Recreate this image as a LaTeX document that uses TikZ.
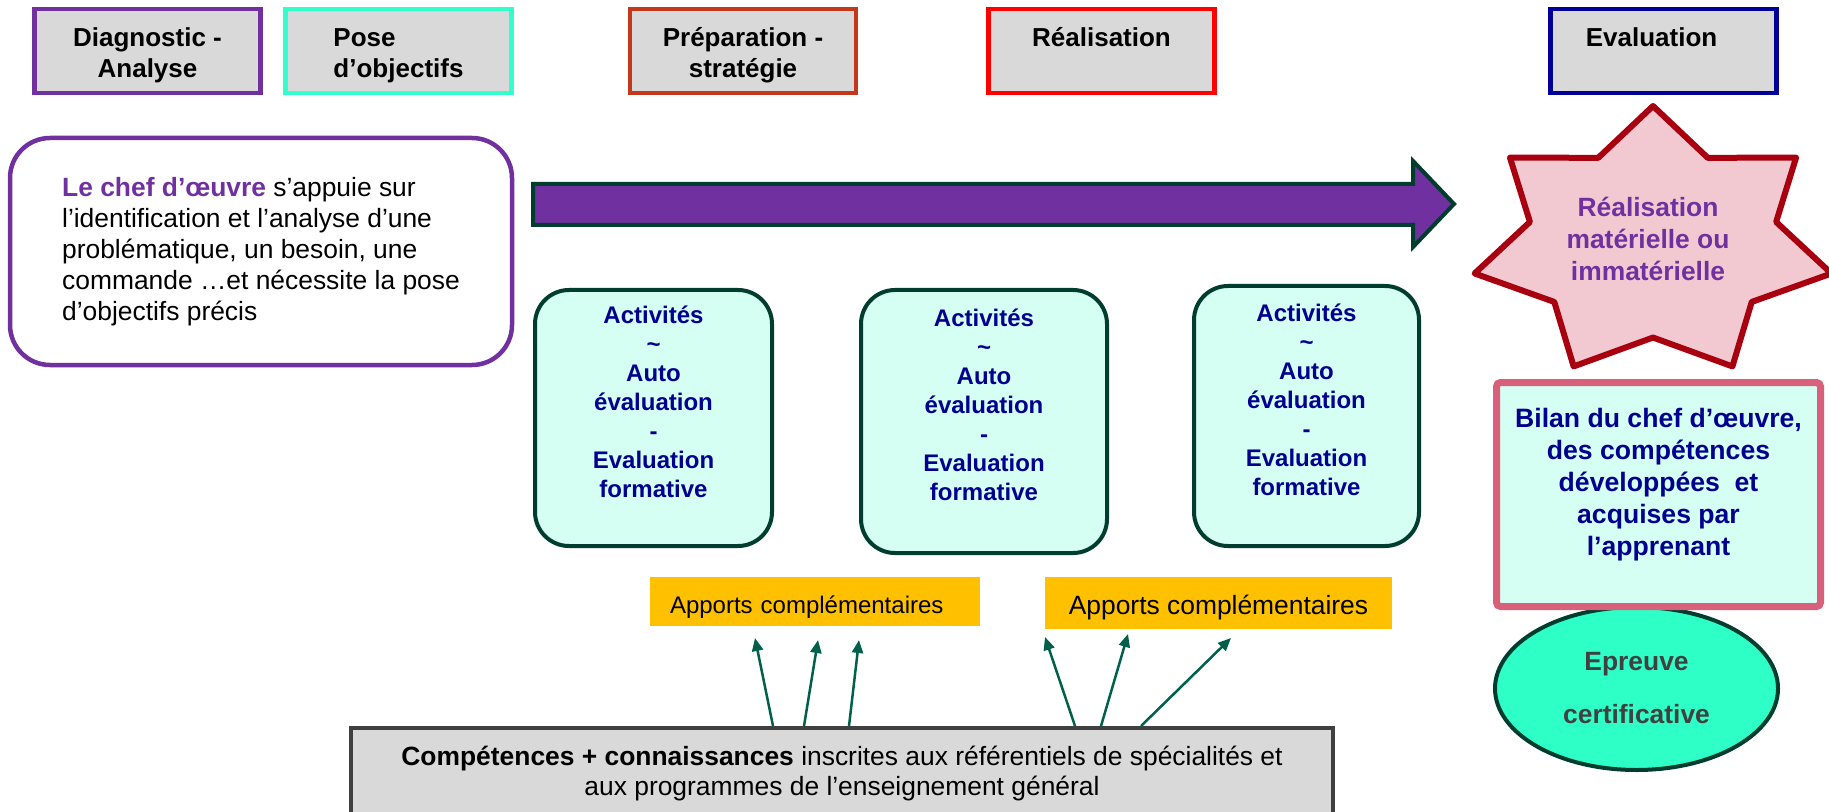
\documentclass[tikz,border=0pt]{standalone}
\usepackage{fontspec}
\setmainfont{Liberation Sans}
\usetikzlibrary{arrows.meta,shapes.geometric}
\definecolor{chefpurple}{HTML}{7030A0}
\definecolor{poseaqua}{HTML}{33FFCC}
\definecolor{preporange}{HTML}{C3371B}
\definecolor{evalblue}{HTML}{000099}
\definecolor{boxgray}{HTML}{D9D9D9}
\definecolor{darkgreen}{HTML}{003D2F}
\definecolor{paleaqua}{HTML}{D5FFF3}
\definecolor{textblue}{HTML}{000090}
\definecolor{starpink}{HTML}{F2C9D1}
\definecolor{starred}{HTML}{A8000F}
\definecolor{bilanpink}{HTML}{D9607A}
\definecolor{certgreen}{HTML}{2EFFC6}
\definecolor{apportsgold}{HTML}{FFC000}
\definecolor{compgray}{HTML}{404040}
\definecolor{arrowgreen}{HTML}{00604A}

\begin{document}
\begin{tikzpicture}[x=0.5pt,y=-0.5pt,
		topbox/.style={draw=#1,fill=boxgray,line width=2.25pt,minimum width=113pt,minimum height=42pt,inner sep=0pt,align=center,font=\fontsize{13}{15.5}\selectfont\bfseries},
		twoline/.style={text height=30pt,text depth=3pt},
		oneline/.style={text height=10pt,text depth=14pt},
		actbox/.style={draw=darkgreen,fill=paleaqua,line width=2pt,rounded corners=17pt,inner sep=0pt,align=center,text=textblue,font=\fontsize{12}{14.5}\selectfont\bfseries,text height=85pt,text depth=6pt},
		apports/.style={fill=apportsgold,inner sep=0pt,text depth=0.5pt},
		feed/.style={arrowgreen,line width=1.25pt,-{Triangle[length=6.5pt,width=5.5pt]}}]
				\clip (0,0) rectangle (1829,812);
				\node[topbox=chefpurple,twoline] (diag) at (147.5,51) {Diagnostic -\\Analyse};
				\node[topbox=poseaqua,twoline,align=left] (pose) at (398.5,51) {Pose\\d’objectifs};
				\node[topbox=preporange,twoline] (prep) at (743,51) {Préparation -\\stratégie};
				\node[topbox=red,oneline] (real) at (1101.5,51) {Réalisation};
				\node[topbox=evalblue,oneline] (eval) at (1663.5,51) {Evaluation\hspace*{12pt}};
				\node[draw=chefpurple,line width=2.25pt,rounded corners=20pt,minimum width=251pt,minimum height=113.5pt,align=left,font=\fontsize{13.2}{15.5}\selectfont] (chef) at (261,251.5) {\textcolor{chefpurple}{\textbf{Le chef d’œuvre}} s’appuie sur\\l’identification et l’analyse d’une\\problématique, un besoin, une\\commande …et nécessite la pose\\d’objectifs précis};
				\filldraw[fill=chefpurple,draw=darkgreen,line width=2pt] (533,184) -- (1413,184) -- (1413,161) -- (1454,204) -- (1413,247) -- (1413,225) -- (533,225) -- cycle;
				\node[actbox,minimum width=118.5pt,minimum height=128pt] (act1) at (653.5,418) {Activités\\\textasciitilde\\Auto\\évaluation\\-\\Evaluation\\formative};
				\node[actbox,minimum width=123pt,minimum height=131.5pt] (act2) at (984,421.5) {Activités\\\textasciitilde\\Auto\\évaluation\\-\\Evaluation\\formative};
				\node[actbox,minimum width=112.5pt,minimum height=130pt] (act3) at (1306.5,416) {Activités\\\textasciitilde\\Auto\\évaluation\\-\\Evaluation\\formative};
				\filldraw[fill=starpink,draw=starred,line width=3pt,line join=round] (1653,106) \foreach \i in {1,...,13} {-- ({1653+183*(1-0.31*mod(\i,2))*cos(90+\i*360/14)},{243-137*(1-0.31*mod(\i,2))*sin(90+\i*360/14)})} -- cycle;
				\node[align=center,text=chefpurple,font=\fontsize{13.2}{16}\selectfont\bfseries,text height=10pt,text depth=10pt] (mat) at (1648,281) {Réalisation\\matérielle ou\\immatérielle};
				\node[ellipse,draw=darkgreen,fill=certgreen,line width=2pt,minimum width=141.5pt,minimum height=81.5pt,inner sep=0pt,align=center,text=compgray,font=\fontsize{13.2}{26.5}\selectfont\bfseries] (cert) at (1636.5,688.5) {Epreuve\\certificative};
				\node[draw=bilanpink,fill=paleaqua,line width=3.5pt,rounded corners=2pt,minimum width=162pt,minimum height=112pt,inner sep=0pt,align=center,text=textblue,font=\fontsize{13.3}{16}\selectfont\bfseries,text height=66pt,text depth=5.5pt] (bilan) at (1658.5,494.5) {Bilan du chef d’œuvre,\\des compétences\\développées~ et\\acquises par\\l’apprenant};
				\node[apports,minimum width=165pt,minimum height=24.5pt,text width=145pt,inner xsep=10pt,text height=12.5pt,font=\fontsize{12}{14}\selectfont] (app1) at (815,601.5) {Apports complémentaires};
				\node[apports,minimum width=173.5pt,minimum height=26pt,text height=12pt,font=\fontsize{13.2}{15}\selectfont] (app2) at (1218.5,603) {Apports complémentaires};
				\node[draw=compgray,fill=boxgray,line width=2pt,minimum width=491pt,minimum height=46pt,align=center,font=\fontsize{13.2}{15}\selectfont] (comp) at (842,774) {\textbf{Compétences + connaissances} inscrites aux référentiels de spécialités et\\aux programmes de l’enseignement général};
				\coordinate (tip1) at (755,638);
				\coordinate (tip2) at (818,640);
				\coordinate (tip3) at (859,640);
				\coordinate (tip4) at (1045,637);
				\coordinate (tip5) at (1128,634);
				\coordinate (tip6) at (1231,638);
				\draw[feed] ([xshift=-34.5pt]comp.north) -- (tip1);
				\draw[feed] ([xshift=-19pt]comp.north) -- (tip2);
				\draw[feed] ([xshift=3.5pt]comp.north) -- (tip3);
				\draw[feed] ([xshift=116.5pt]comp.north) -- (tip4);
				\draw[feed] ([xshift=129.5pt]comp.north) -- (tip5);
				\draw[feed] ([xshift=149.5pt]comp.north) -- (tip6);
		\end{tikzpicture}
\end{document}
